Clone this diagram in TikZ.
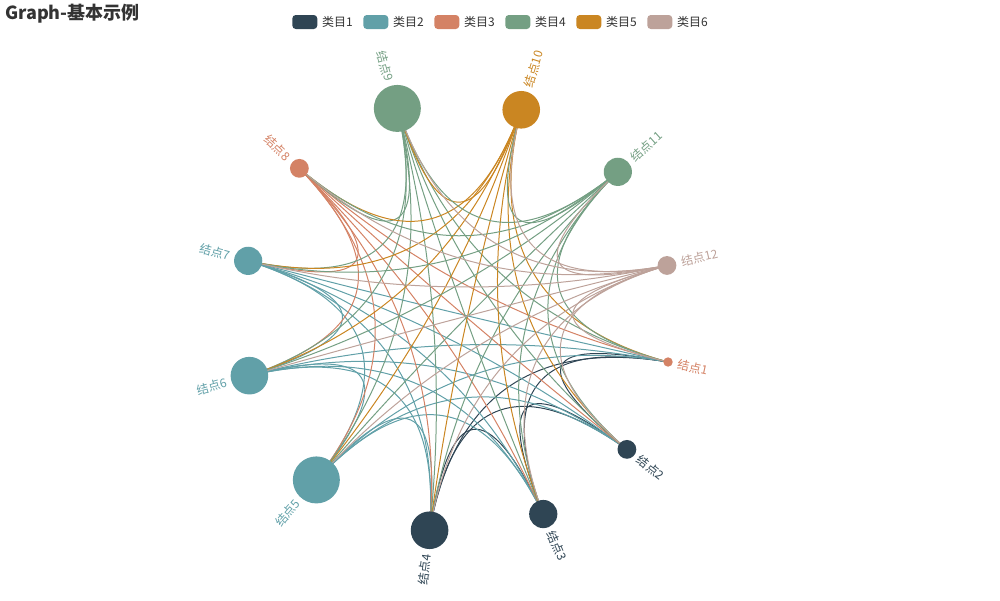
\documentclass[tikz,border=0pt]{standalone}
\usepackage{fontspec}
\setmainfont{Noto Sans CJK SC}
\usetikzlibrary{calc}
\definecolor{C1}{HTML}{2F4554}
\definecolor{C2}{HTML}{61A0A8}
\definecolor{C3}{HTML}{D48265}
\definecolor{C4}{HTML}{749F83}
\definecolor{C5}{HTML}{CA8622}
\definecolor{C6}{HTML}{BDA29A}
\definecolor{txt}{HTML}{333333}
\colorlet{nc1}{C3}\colorlet{nc2}{C1}\colorlet{nc3}{C1}\colorlet{nc4}{C1}
\colorlet{nc5}{C2}\colorlet{nc6}{C2}\colorlet{nc7}{C2}\colorlet{nc8}{C3}
\colorlet{nc9}{C4}\colorlet{nc10}{C5}\colorlet{nc11}{C4}\colorlet{nc12}{C6}
\pgfdeclarelayer{bg}
\pgfsetlayers{bg,main}
\tikzset{
  gnode/.style={circle,inner sep=0pt,outer sep=0pt,draw=none},
  glabel/.style={inner sep=0pt,font=\fontsize{12}{14}\selectfont},
  edge/.style={line width=1pt},
  legbox/.style={rounded corners=3.5pt,minimum width=25pt,minimum height=14pt,inner sep=0pt,outer sep=0pt},
  legtext/.style={anchor=west,inner sep=0pt,text=txt,font=\fontsize{12}{14}\selectfont}
}
\begin{document}
\begin{tikzpicture}[x=1pt,y=-1pt]
\useasboundingbox (0,0) rectangle (1000,600);
\coordinate (c) at (457,316);
% title
\node[anchor=west,inner sep=0pt,text=txt,font=\fontsize{18}{20}\selectfont\bfseries] (title) at (5,14) {Graph-基本示例};
% legend
\foreach \k/\col in {1/C1,2/C2,3/C3,4/C4,5/C5,6/C6}{
  \node[legbox,fill=\col] (lb\k) at ({304.8+71*(\k-1)},22) {};
  \node[legtext] (lt\k) at ($(lb\k.east)+(4.5,0)$) {类目\k};
}
% nodes
\foreach \i/\ang/\d in {1/12.295/9.4,2/38.132/18.8,3/66.465/28.2,4/97.297/37.6,5/130.631/47,6/163.965/37.6,7/194.797/28.2,8/223.13/18.8,9/253.965/47,10/287.299/37.6,11/318.131/28.2,12/346.464/18.8}{
  \node[gnode,fill=nc\i,minimum size=\d pt] (n\i) at ($(c)+(\ang:216)$) {};
}
% labels, right half
\foreach \i/\ang/\d in {1/12.295/9.4,2/38.132/18.8,3/66.465/28.2,10/287.299/37.6,11/318.131/28.2,12/346.464/18.8}{
  \node[glabel,text=nc\i,anchor=west,rotate=-\ang] (l\i) at ($(c)+(\ang:{216+\d/2+5})$) {结点\i};
}
% labels, left half
\foreach \i/\ang/\d in {4/97.297/37.6,5/130.631/47,6/163.965/37.6,7/194.797/28.2,8/223.13/18.8,9/253.965/47}{
  \node[glabel,text=nc\i,anchor=east,rotate=180-\ang] (l\i) at ($(c)+(\ang:{216+\d/2+5})$) {结点\i};
}
% edges
\begin{pgfonlayer}{bg}
\foreach \b in {2,...,12}{
  \pgfmathtruncatemacro\bm{\b-1}
  \foreach \a in {1,...,\bm}{
    \coordinate (q) at ($0.9*(c)+0.05*(n\a)+0.05*(n\b)$);
    \draw[edge,draw=nc\b] (n\b.center) .. controls ($(n\b)!0.66667!(q)$) and ($(n\a)!0.66667!(q)$) .. (n\a.center);
  }
}
\end{pgfonlayer}
\end{tikzpicture}
\end{document}
